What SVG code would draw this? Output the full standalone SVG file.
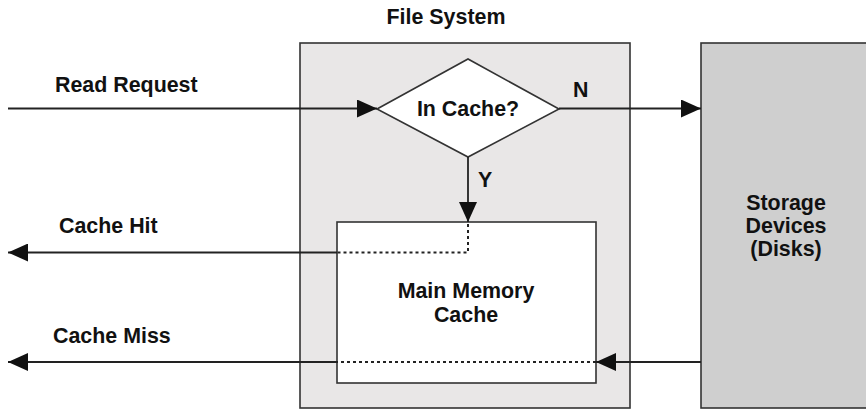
<svg xmlns="http://www.w3.org/2000/svg" width="866" height="412" viewBox="0 0 866 412">
<style>
text{font-family:"Liberation Sans",Arial,sans-serif;font-weight:bold;font-size:21.4px;fill:#111;}
.c{text-anchor:middle;}
.box{stroke:#333;stroke-width:1.6;}
.ln{stroke:#222;stroke-width:1.8;fill:none;}
.dot{stroke:#222;stroke-width:2;fill:none;stroke-dasharray:3 3;}
</style>
<defs>
<marker id="ah" viewBox="0 0 20 18" refX="20" refY="9" markerWidth="20" markerHeight="18" markerUnits="userSpaceOnUse" orient="auto">
<path d="M0,0 L20,9 L0,18 Z" fill="#111"/>
</marker>
</defs>
<rect width="866" height="412" fill="#fff"/>
<g id="filesystem">
<rect class="box" x="300" y="43" width="330" height="365" fill="#e9e7e7"/>
<text class="c" x="446" y="24">File System</text>
</g>
<g id="storage">
<rect class="box" x="701" y="43" width="175" height="365" fill="#cfcfcf"/>
<text class="c" x="786" y="210">Storage</text>
<text class="c" x="786" y="233">Devices</text>
<text class="c" x="786" y="256">(Disks)</text>
</g>
<g id="memory">
<rect class="box" x="337" y="222" width="259" height="161" fill="#fff"/>
<text class="c" x="466" y="298">Main Memory</text>
<text class="c" x="466" y="322">Cache</text>
</g>
<g id="decision">
<polygon class="box" points="377,109 468,59 559,109 468,157" fill="#fff"/>
<text class="c" x="468" y="116">In Cache?</text>
</g>
<g id="connectors">
<line class="ln" x1="8" y1="108.5" x2="377" y2="108.5" marker-end="url(#ah)"/>
<line class="ln" x1="559" y1="108.5" x2="701" y2="108.5" marker-end="url(#ah)"/>
<line class="ln" x1="468" y1="157" x2="468" y2="222" marker-end="url(#ah)"/>
<polyline class="dot" points="468,224 468,252.5 337,252.5"/>
<line class="ln" x1="337" y1="252.5" x2="8" y2="252.5" marker-end="url(#ah)"/>
<line class="ln" x1="701" y1="362" x2="596" y2="362" marker-end="url(#ah)"/>
<line class="dot" x1="596" y1="362" x2="337" y2="362"/>
<line class="ln" x1="337" y1="362" x2="8" y2="362" marker-end="url(#ah)"/>
</g>
<g id="labels">
<text x="55" y="92">Read Request</text>
<text x="573" y="97">N</text>
<text x="478" y="187">Y</text>
<text x="59" y="233">Cache Hit</text>
<text x="53" y="343">Cache Miss</text>
</g>
</svg>
